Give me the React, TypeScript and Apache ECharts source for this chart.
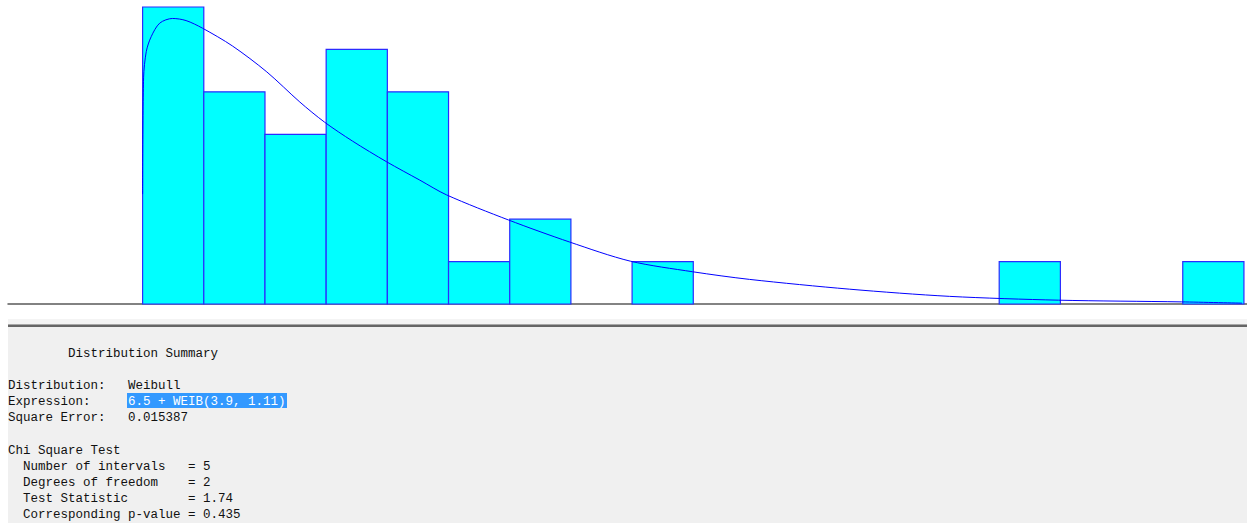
import React, { useEffect, useRef } from "react";
import * as echarts from "echarts";

// Histogram bins (left edge, in bin units) and observed counts
const binStarts = [0, 1, 2, 3, 4, 5, 6, 7, 8, 9, 10, 11, 12, 13, 14, 15, 16, 17];
const binCounts = [7, 5, 4, 6, 5, 1, 2, 0, 1, 0, 0, 0, 0, 0, 1, 0, 0, 1];

// Fitted density curve (same units)
const curveX = [0, 0.016, 0.06, 0.14, 0.28, 0.49, 0.71, 0.98, 1.47, 2.03, 2.57, 2.97, 3.43, 3.99, 4.53, 4.97, 5.98, 6.98, 7.97, 8.99, 9.92, 11.55, 13.19, 14.97, 16.98, 17.97];
const curveY = [2.59, 5.33, 5.95, 6.3, 6.62, 6.73, 6.68, 6.5, 6.08, 5.47, 4.76, 4.29, 3.84, 3.35, 2.92, 2.57, 1.98, 1.46, 1.01, 0.76, 0.58, 0.35, 0.18, 0.09, 0.05, 0.02];

const summaryTitle = "Distribution Summary";
const summaryLabels = ["Distribution:", "Expression:", "Square Error:"];
const summaryValues = ["Weibull", "6.5 + WEIB(3.9, 1.11)", "0.015387"];
const chiTitle = "Chi Square Test";
const chiLabels = ["Number of intervals", "Degrees of freedom", "Test Statistic", "Corresponding p-value"];
const chiValues = ["= 5", "= 2", "= 1.74", "= 0.435"];

const MONO = "'Liberation Mono', 'DejaVu Sans Mono', monospace";
const CW = 7.5; // char width

export default function App() {
  const ref = useRef<HTMLDivElement>(null);
  useEffect(() => {
    if (!ref.current) return;
    const chart = echarts.init(ref.current, undefined, { renderer: "svg" });
    const txt = (x: number, y: number, s: string, fill = "#111") => ({
      type: "text",
      x,
      y,
      style: { text: s, fill, font: `12.5px ${MONO}`, textVerticalAlign: "middle", textAlign: "left" },
      z: 10,
    });
    const graphics: any[] = [
      { type: "rect", shape: { x: 8, y: 319, width: 1239, height: 5 }, style: { fill: "#f4f4f4" }, z: 5 },
      { type: "rect", shape: { x: 8, y: 324, width: 1239, height: 1 }, style: { fill: "#a8a8a8" }, z: 5 },
      { type: "rect", shape: { x: 8, y: 325, width: 1239, height: 2 }, style: { fill: "#666666" }, z: 5 },
      { type: "rect", shape: { x: 8, y: 327, width: 1239, height: 196 }, style: { fill: "#f0f0f0" }, z: 5 },
      { type: "rect", shape: { x: 127, y: 393, width: 160, height: 15 }, style: { fill: "#3399ff" }, z: 6 },
      txt(8 + 8 * CW, 354, summaryTitle),
    ];
    const sumY = [386, 402, 418];
    summaryLabels.forEach((l, i) => {
      graphics.push(txt(8, sumY[i], l));
      graphics.push(txt(8 + 16 * CW, sumY[i], summaryValues[i], i === 1 ? "#ffffff" : "#111"));
    });
    graphics.push(txt(8, 451, chiTitle));
    const chiY = [467, 483, 499, 515];
    chiLabels.forEach((l, i) => {
      graphics.push(txt(8 + 2 * CW, chiY[i], l));
      graphics.push(txt(8 + 24 * CW, chiY[i], chiValues[i]));
    });

    chart.setOption({
      animation: false,
      grid: { left: 8, right: 0, top: 7, bottom: 219 },
      xAxis: {
        type: "value",
        min: -2.2,
        max: 18.05,
        axisLine: { show: true, lineStyle: { color: "#5a5a5a", width: 1.5 } },
        axisTick: { show: false },
        axisLabel: { show: false },
        splitLine: { show: false },
      },
      yAxis: { type: "value", min: 0, max: 7, show: false, splitLine: { show: false } },
      series: [
        {
          type: "custom",
          data: binStarts.map((s, i) => [s, binCounts[i]]),
          renderItem: (params: any, api: any) => {
            const x0 = api.value(0);
            const c = api.value(1);
            if (!c) return null;
            const p1 = api.coord([x0, c]);
            const p2 = api.coord([x0 + 1, 0]);
            return {
              type: "rect",
              shape: { x: p1[0], y: p1[1], width: p2[0] - p1[0], height: p2[1] - p1[1] },
              style: { fill: "#00ffff", stroke: "#2b2bff", lineWidth: 1.2 },
            };
          },
          z: 2,
        },
        {
          type: "line",
          data: curveX.map((x, i) => [x, curveY[i]]),
          showSymbol: false,
          smooth: 0.3,
          lineStyle: { color: "#0000ff", width: 1 },
          z: 3,
        },
      ],
      graphic: graphics,
    });
    return () => chart.dispose();
  }, []);
  return <div ref={ref} style={{ position: "fixed", left: 0, top: 0, width: 1247, height: 523, background: "#fff" }} />;
}
